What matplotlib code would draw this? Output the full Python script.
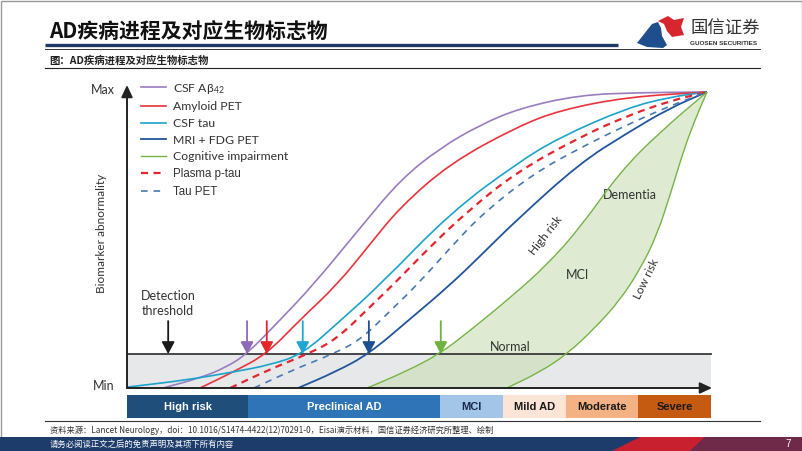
import matplotlib
matplotlib.use('Agg')
import matplotlib.pyplot as plt
from matplotlib.patches import Rectangle, Polygon, PathPatch
from matplotlib.lines import Line2D
from matplotlib.path import Path
import numpy as np

W, H = 802, 451
plt.rcParams['font.family'] = ['Lato', 'DejaVu Sans']
plt.rcParams['mathtext.default'] = 'regular'

CJK = ['Noto Sans CJK SC', 'DejaVu Sans']

# ---------------- data (progression 0-100, abnormality 0-100) ----------------
threshold = 11.5

csf_ab42_x = [6.2, 12.6, 16.9, 20.7, 26.4, 32.1, 40.2, 47.1, 54.0, 60.9, 67.8, 78.1, 88.4, 100]
csf_ab42_y = [0.0, 3.4, 6.8, 11.5, 23.0, 34.8, 54.1, 70.3, 81.1, 88.9, 94.6, 99.0, 99.8, 100]

amyloid_x = [12.6, 18.3, 24.1, 29.8, 36.2, 41.9, 47.1, 55.7, 67.2, 74.7, 86.2, 100]
amyloid_y = [0.0, 5.4, 11.5, 23.0, 34.8, 48.6, 61.1, 75.9, 88.2, 93.9, 98.3, 100]

csf_tau_x = [0.0, 10.3, 18.3, 24.7, 30.3, 36.7, 43.6, 55.7, 67.2, 74.7, 86.2, 93.6, 100]
csf_tau_y = [0.3, 2.7, 5.4, 7.8, 11.5, 22.6, 34.8, 59.1, 75.9, 84.8, 94.6, 98.3, 100]

mri_fdg_x = [29.5, 35.9, 41.7, 48.8, 55.7, 60.9, 67.2, 78.1, 86.2, 93.6, 100]
mri_fdg_y = [0.0, 5.4, 11.5, 23.3, 34.8, 44.6, 56.8, 76.0, 86.1, 94.6, 100]

ptau_x = [17.8, 24.7, 31.2, 36.2, 41.9, 46.2, 52.2, 58.6, 67.2, 78.1, 86.2, 93.6, 100]
ptau_y = [0.0, 6.4, 11.5, 16.6, 27.4, 35.5, 47.6, 59.5, 73.0, 84.8, 91.9, 97.0, 100]

taupet_x = [21.9, 28.6, 35.5, 40.2, 45.0, 50.0, 55.7, 61.4, 70.0, 78.1, 86.2, 93.6, 100]
taupet_y = [0.0, 6.1, 11.5, 16.2, 25.3, 34.8, 47.3, 59.1, 72.3, 81.1, 88.9, 95.3, 100]

cog_high_x = [41.4, 47.9, 53.9, 59.1, 66.6, 72.4, 78.1, 85.0, 91.9, 100]
cog_high_y = [0.0, 5.4, 11.5, 19.3, 31.4, 41.6, 54.1, 73.0, 86.5, 100]

cog_low_x = [65.5, 71.2, 75.9, 80.7, 85.0, 88.4, 91.4, 93.9, 96.0, 97.9, 100]
cog_low_y = [0.0, 5.4, 11.5, 20.3, 29.7, 39.9, 51.7, 66.9, 80.4, 90.5, 100]

legend_labels = ['CSF Aβ$_{42}$', 'Amyloid PET', 'CSF tau', 'MRI + FDG PET',
                 'Cognitive impairment', 'Plasma p-tau', 'Tau PET']

arrow_x = [7.1, 20.7, 24.1, 30.3, 41.7, 54.1]
arrow_top = 22.6

stages = ['High risk', 'Preclinical AD', 'MCI', 'Mild AD', 'Moderate', 'Severe']
stage_edges = [0, 20.9, 54.0, 64.8, 75.7, 88.1, 100.7]

# ---------------- styles ----------------
c_purple = '#9a7cc0'
c_red = '#e8343a'
c_cyan = '#1ba3cc'
c_dblue = '#21559c'
c_green = '#76b447'
c_pdash = '#e3262d'
c_bdash = '#4679b4'
stage_colors = ['#1f4e7a', '#2f74b6', '#a3c6e8', '#fce4d6', '#f4b183', '#c55a11']
stage_text = ['white', 'white', '#1a2a4a', '#1a1a1a', '#1a1a1a', '#1a1a1a']


def smooth_verts(xs, ys, start_code=Path.MOVETO):
    """Quadratic-Bezier path through the read points (corner rounding for drawing)."""
    p = np.column_stack([xs, ys]).astype(float)
    verts = [p[0], (p[0] + p[1]) / 2]
    codes = [start_code, Path.LINETO]
    for i in range(1, len(p) - 1):
        verts += [p[i], (p[i] + p[i + 1]) / 2]
        codes += [Path.CURVE3, Path.CURVE3]
    verts.append(p[-1])
    codes.append(Path.LINETO)
    return verts, codes


fig = plt.figure(figsize=(W / 100, H / 100), dpi=100)

# ---------------- page decoration ----------------
bg = fig.add_axes([0, 0, 1, 1], zorder=0)
bg.set_xlim(0, W)
bg.set_ylim(H, 0)
bg.axis('off')
bg.add_patch(Rectangle((0.5, 0.5), W - 1, H - 1, fill=False, ec='#9a9a9a', lw=1))
bg.plot([45, 618], [45, 45], color='#1f3864', lw=2.4, solid_capstyle='butt')
bg.plot([45, 760], [48.5, 48.5], color='#333333', lw=0.7)
bg.plot([45, 760], [68, 68], color='#222222', lw=0.8)
bg.plot([45, 760], [421, 421], color='#333333', lw=0.8)
# logo
bg.add_patch(Polygon([(637, 43), (652, 24), (658, 22), (661, 28), (662, 36), (667, 45), (663, 48), (647, 47)],
                     closed=True, fc='#1f4e8c', ec='none'))
bg.add_patch(Polygon([(658, 21), (668, 16), (674, 20), (684, 18), (681, 27), (684, 35), (672, 37), (667, 31), (664, 24)],
                     closed=True, fc='#d7262f', ec='none'))
fig.text(690 / W, 1 - 29 / H, '国信证券', family=CJK, fontsize=12.5, color='#333333', va='center', ha='left')
fig.text(690 / W, 1 - 43.5 / H, 'GUOSEN SECURITIES', family=['Liberation Sans'], fontsize=4.6,
         fontweight='bold', color='#333333', va='center', ha='left')
# footer band
bg.add_patch(Rectangle((0, 437), W, 14, fc='#1d3c6c', ec='none'))
bg.add_patch(Polygon([(612, 451), (640, 437), (705, 437), (690, 451)], closed=True, fc='#c8202f', ec='none'))
bg.add_patch(Polygon([(690, 451), (705, 437), (802, 437), (802, 451)], closed=True, fc='#6e2a48', ec='none'))

fig.text(49 / W, 1 - 32 / H, 'AD疾病进程及对应生物标志物', family=CJK, fontsize=15,
         fontweight='bold', color='#111111', va='center', ha='left')
fig.text(49 / W, 1 - 60 / H, '图：AD疾病进程及对应生物标志物', family=CJK, fontsize=7.5,
         fontweight='bold', color='#222222', va='center', ha='left')
fig.text(50 / W, 1 - 430.5 / H,
         '资料来源：Lancet Neurology，doi：10.1016/S1474-4422(12)70291-0，Eisai演示材料，国信证券经济研究所整理、绘制',
         family=CJK, fontsize=5.95, color='#333333', va='center', ha='left')
fig.text(50 / W, 1 - 444 / H, '请务必阅读正文之后的免责声明及其项下所有内容', family=CJK,
         fontsize=6, color='white', va='center', ha='left')
fig.text(788 / W, 1 - 444 / H, '7', fontsize=7, color='white', va='center', ha='center',
         family=['Liberation Sans'])

# ---------------- main chart ----------------
xmax = 585 / 5.8
ymax = 303 / 2.96
ax = fig.add_axes([127 / W, 1 - 388 / H, 585 / W, 303 / H], zorder=2)
ax.set_xlim(0, xmax)
ax.set_ylim(0, ymax)
ax.axis('off')

ax.add_patch(Rectangle((0, 0), stage_edges[-1], threshold, fc='#e7e8ea', ec='none', zorder=1))

# green cognitive-impairment band
vu, cu = smooth_verts(cog_high_x, cog_high_y)
vl, cl = smooth_verts(cog_low_x[::-1], cog_low_y[::-1], start_code=Path.LINETO)
band = Path(vu + vl + [vu[0]], cu + cl + [Path.CLOSEPOLY])
ax.add_patch(PathPatch(band, fc='#c9dfb4', alpha=0.6, lw=0, ec='none', zorder=2))

ax.plot([0, stage_edges[-1]], [threshold, threshold], color='#3a3a3a', lw=1.3, zorder=3)

series = [
    (csf_ab42_x, csf_ab42_y, c_purple, 1.2, '-'),
    (amyloid_x, amyloid_y, c_red, 1.2, '-'),
    (csf_tau_x, csf_tau_y, c_cyan, 1.2, '-'),
    (mri_fdg_x, mri_fdg_y, c_dblue, 1.3, '-'),
    (cog_high_x, cog_high_y, c_green, 1.0, '-'),
    (ptau_x, ptau_y, c_pdash, 1.6, (0, (3.2, 2.4))),
    (taupet_x, taupet_y, c_bdash, 1.2, (0, (4, 3.5))),
]
handles = []
for xs, ys, col, lw, ls in series:
    v, c = smooth_verts(xs, ys)
    ax.add_patch(PathPatch(Path(v, c), fill=False, ec=col, lw=lw, ls=ls, zorder=4))
    handles.append(Line2D([], [], color=col, lw=lw, ls=ls))
v, c = smooth_verts(cog_low_x, cog_low_y)
ax.add_patch(PathPatch(Path(v, c), fill=False, ec=c_green, lw=1.0, zorder=4))

# axes arrows
arr_kw = dict(arrowstyle='-|>,head_length=0.6,head_width=0.28', color='#222222', lw=1.4,
              shrinkA=0, shrinkB=0, mutation_scale=12)
ax.annotate('', xy=(0, ymax), xytext=(0, 0), arrowprops=arr_kw, zorder=6)
ax.annotate('', xy=(xmax, 0), xytext=(0, 0), arrowprops=arr_kw, zorder=6)

# threshold arrows
arrow_colors = ['#1a1a1a', '#8e6bb8', '#e3262a', '#1ea5d0', '#1d4f91', '#6db33f']
for xa, ca in zip(arrow_x, arrow_colors):
    ax.annotate('', xy=(xa, threshold), xytext=(xa, arrow_top),
                arrowprops=dict(arrowstyle='-|>,head_length=0.6,head_width=0.32', color=ca, lw=1.3,
                                shrinkA=0, shrinkB=0, mutation_scale=12), zorder=5)

tc = '#333333'
ax.text(7.1, 28.6, 'Detection\nthreshold', ha='center', va='center', fontsize=9, color=tc, linespacing=1.25)
ax.text(66.0, 13.9, 'Normal', ha='center', va='center', fontsize=9, color=tc)
ax.text(77.6, 38.2, 'MCI', ha='center', va='center', fontsize=9, color=tc)
ax.text(86.7, 65.2, 'Dementia', ha='center', va='center', fontsize=9, color=tc)
ax.text(72.2, 51.5, 'High risk', ha='center', va='center', fontsize=8.5, color=tc, rotation=52)
ax.text(89.5, 36.8, 'Low risk', ha='center', va='center', fontsize=8.5, color=tc, rotation=64)

fig.text(115 / W, 1 - 90 / H, 'Max', ha='right', va='center', fontsize=9, color=tc)
fig.text(115 / W, 1 - 386 / H, 'Min', ha='right', va='center', fontsize=9, color=tc)
fig.text(102 / W, 1 - 233 / H, 'Biomarker abnormality', ha='center', va='center', fontsize=8.5,
         color=tc, rotation=90)

leg = fig.legend(handles, legend_labels, loc='upper left',
                 bbox_to_anchor=(141 / W, 1 - 81.5 / H), frameon=False, fontsize=8.8,
                 handlelength=2.05, handletextpad=0.55, labelspacing=0.47, borderpad=0, borderaxespad=0)
for i, t in enumerate(leg.get_texts()):
    t.set_color(tc)
    if i >= 5:
        t.set_family('Liberation Sans')
        t.set_fontsize(8.3)

# ---------------- stage bar ----------------
bax = fig.add_axes([127 / W, 1 - 418 / H, 585 / W, 23 / H], zorder=2)
bax.set_xlim(0, xmax)
bax.set_ylim(0, 1)
bax.axis('off')
lefts = stage_edges[:-1]
widths = np.diff(stage_edges)
bax.barh(0.5, widths, left=lefts, height=1, color=stage_colors, edgecolor='none')
for s, l, w, tcol in zip(stages, lefts, widths, stage_text):
    bax.text(l + w / 2, 0.5, s, ha='center', va='center', fontsize=8, fontweight='bold',
             color=tcol, family=['Liberation Sans'])

fig.savefig('out.png', dpi=100)
